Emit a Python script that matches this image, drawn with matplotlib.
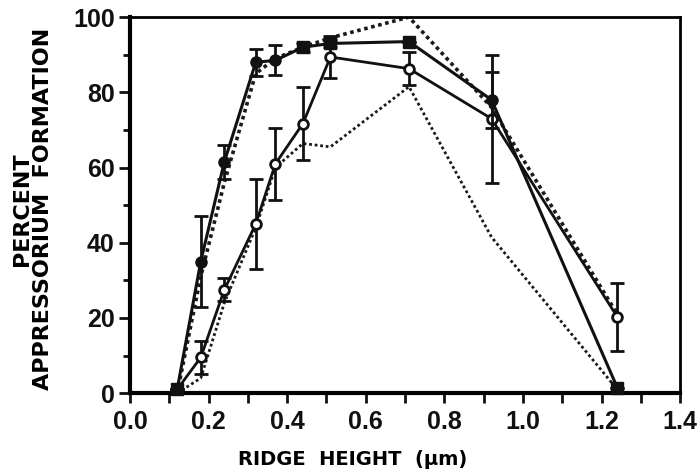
import matplotlib
matplotlib.use("Agg")
import matplotlib.pyplot as plt
from matplotlib.ticker import MultipleLocator

plt.rcParams['font.family'] = ['Liberation Sans', 'DejaVu Sans']

# ridge heights (um)
heights = [0.12, 0.18, 0.24, 0.32, 0.37, 0.44, 0.51, 0.71, 0.92, 1.24]

# filled symbols, solid line
filled = [1, 35, 61.5, 88, 88.5, 92, 93, 93.5, 78, 1.5]
filled_err = [0, 12, 4.5, 3.6, 4, 1.2, 1, 0, 7.5, 0]
filled_square = [True, False, False, False, False, True, True, True, False, True]

# open circles, solid line
opened = [1, 9.5, 27.5, 45, 61, 71.7, 89.4, 86.3, 73, 20.3]
opened_err = [0, 4.5, 3, 12, 9.5, 9.7, 5.5, 4.3, 17, 9]

# dotted lines, no symbols
dotted_a = [0, 31, 56, 85, 89, 92, 94.5, 100, 76, 21]
dotted_b = [0, 4, 24, 44, 60, 66.4, 65.5, 81.5, 41.5, 1]

fig = plt.figure(figsize=(6.99, 4.76), dpi=100)
ax = fig.add_axes([0.186, 0.174, 0.787, 0.790])

ax.plot(heights, dotted_a, color='#1a1a1a', lw=2.6, ls=(0, (1, 1)), zorder=2)
ax.plot(heights, dotted_b, color='#1a1a1a', lw=2.0, ls=(0, (1, 1)), zorder=2)

ax.errorbar(heights, opened, yerr=opened_err, color='#111111', lw=2.0,
            elinewidth=2.0, capsize=5, capthick=2.0, marker='o', ms=7,
            mfc='white', mec='#111111', mew=2.0, zorder=3)

ax.errorbar(heights, filled, yerr=filled_err, color='#111111', lw=2.2,
            elinewidth=2.0, capsize=5, capthick=2.0, fmt='-', zorder=4)
sq_x = [h for h, s in zip(heights, filled_square) if s]
sq_y = [v for v, s in zip(filled, filled_square) if s]
ci_x = [h for h, s in zip(heights, filled_square) if not s]
ci_y = [v for v, s in zip(filled, filled_square) if not s]
ax.plot(sq_x, sq_y, ls='none', marker='s', ms=8, color='#111111', zorder=5,
        clip_on=False)
ax.plot(ci_x, ci_y, ls='none', marker='o', ms=8, color='#111111', zorder=5)

ax.set_xlim(0, 1.4)
ax.set_ylim(0, 100)
ax.xaxis.set_major_locator(MultipleLocator(0.2))
ax.xaxis.set_minor_locator(MultipleLocator(0.1))
ax.yaxis.set_major_locator(MultipleLocator(20))
ax.yaxis.set_minor_locator(MultipleLocator(10))
ax.xaxis.set_major_formatter(plt.FuncFormatter(lambda v, p: f"{v:.1f}"))

ax.tick_params(axis='both', which='both', direction='out', width=2,
               colors='#111111', labelsize=18)
ax.tick_params(axis='x', which='both', length=7, pad=5)
ax.tick_params(axis='y', which='major', length=8, pad=3)
ax.tick_params(axis='y', which='minor', length=5)
for lab in ax.get_xticklabels() + ax.get_yticklabels():
    lab.set_fontweight('bold')

ax.spines['left'].set_linewidth(3)
ax.spines['bottom'].set_linewidth(3)
ax.spines['top'].set_linewidth(2)
ax.spines['right'].set_linewidth(2)

ax.set_xlabel('RIDGE  HEIGHT  (\u03bcm)', fontsize=14, fontweight='bold',
              family=['DejaVu Sans'])
ax.xaxis.set_label_coords(0.404, -0.15)
ax.set_ylabel('PERCENT\nAPPRESSORIUM  FORMATION', fontsize=16,
              fontweight='bold', linespacing=1.05, family=['DejaVu Sans'])
ax.yaxis.set_label_coords(-0.14, 0.49)

fig.savefig('out.png', dpi=100)
